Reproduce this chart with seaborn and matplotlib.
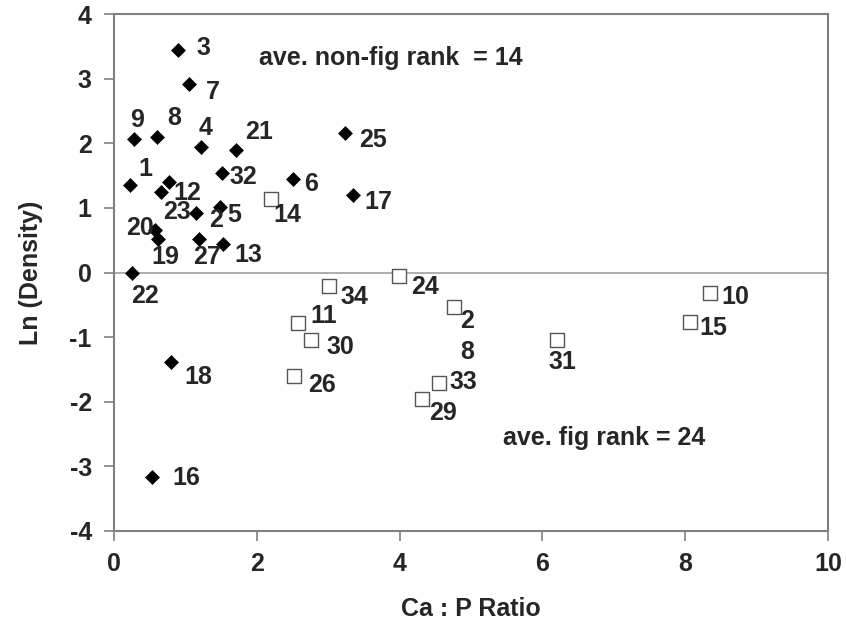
import matplotlib
matplotlib.use("Agg")
import matplotlib.pyplot as plt
import seaborn as sns
import pandas as pd

# ---- data ----
nonfig_labels = ["3", "7", "9", "8", "4", "21", "25", "1", "12", "23", "32", "6", "17",
                 "2", "5", "20", "19", "27", "13", "22", "18", "16"]
nonfig_ca_p = [0.90, 1.05, 0.28, 0.60, 1.22, 1.71, 3.24, 0.22, 0.77, 0.66, 1.51, 2.51, 3.35,
               1.15, 1.48, 0.57, 0.62, 1.19, 1.53, 0.25, 0.80, 0.53]
nonfig_ln_density = [3.44, 2.91, 2.07, 2.10, 1.94, 1.90, 2.16, 1.35, 1.40, 1.25, 1.54, 1.45, 1.20,
                     0.92, 1.01, 0.66, 0.52, 0.52, 0.44, -0.01, -1.39, -3.17]

fig_labels = ["14", "24", "34", "11", "30", "26", "2", "33", "29", "31", "10", "15"]
fig_ca_p = [2.20, 3.99, 3.01, 2.58, 2.76, 2.52, 4.76, 4.55, 4.31, 6.20, 8.35, 8.07]
fig_ln_density = [1.14, -0.05, -0.21, -0.78, -1.04, -1.60, -0.53, -1.71, -1.96, -1.04, -0.32, -0.77]

extra_label = "8"
extra_label_xy = (4.94, -1.23)

note_nonfig = "ave. non-fig rank  = 14"
note_fig = "ave. fig rank = 24"

x_ticks = [0, 2, 4, 6, 8, 10]
y_ticks = [-4, -3, -2, -1, 0, 1, 2, 3, 4]

# ---- label offsets (pixels, dx right, dy down) ----
nonfig_off = [(25, -2), (24, 8), (3, -19), (17, -19), (4, -19), (23, -18), (28, 7), (16, -16),
              (18, 11), (16, 20), (22, 4), (18, 5), (25, 7), (20, 7), (15, 8), (-15, -2),
              (7, 18), (8, 18), (25, 11), (13, 23), (27, 15), (34, 1)]
fig_off = [(16, 16), (26, 11), (25, 11), (25, -7), (29, 7), (28, 9), (13, 14), (24, -1),
           (21, 14), (6, 22), (25, 4), (23, 6)]

df = pd.DataFrame({
    "Ca : P Ratio": nonfig_ca_p + fig_ca_p,
    "Ln (Density)": nonfig_ln_density + fig_ln_density,
    "group": ["non-fig"] * len(nonfig_ca_p) + ["fig"] * len(fig_ca_p),
    "label": nonfig_labels + fig_labels,
})

sns.set_style("white")
FONT = ["Liberation Sans", "DejaVu Sans"]
plt.rcParams["font.family"] = FONT
plt.rcParams["font.weight"] = "bold"
FS = 18

fig = plt.figure(figsize=(8.46, 6.21), dpi=100)
ax = fig.add_axes([114 / 846, 1 - 531 / 621, 714 / 846, 517 / 621])

ax.axhline(0, color="#a0a0a0", lw=1.2, zorder=1)

nf = df[df.group == "non-fig"]
fg = df[df.group == "fig"]
sns.scatterplot(data=nf, x="Ca : P Ratio", y="Ln (Density)", marker="D", s=50,
                color="black", edgecolor="black", linewidth=0.5, ax=ax, zorder=3, legend=False)
sns.scatterplot(data=fg, x="Ca : P Ratio", y="Ln (Density)", marker="s", s=100,
                facecolor="white", edgecolor="#555555", linewidth=1.0, ax=ax, zorder=3, legend=False)

k = 0.72
for (x, y, lab), (dx, dy) in zip(nf[["Ca : P Ratio", "Ln (Density)", "label"]].values, nonfig_off):
    ax.annotate(lab, (x, y), xytext=(dx * k, -dy * k), textcoords="offset points",
                ha="center", va="center", fontsize=FS, fontweight="bold", zorder=4)
for (x, y, lab), (dx, dy) in zip(fg[["Ca : P Ratio", "Ln (Density)", "label"]].values, fig_off):
    ax.annotate(lab, (x, y), xytext=(dx * k, -dy * k), textcoords="offset points",
                ha="center", va="center", fontsize=FS, fontweight="bold", zorder=4)
ax.text(extra_label_xy[0], extra_label_xy[1], extra_label, ha="center", va="center",
        fontsize=FS, fontweight="bold")

ax.text(2.03, 3.32, note_nonfig, ha="left", va="center", fontsize=FS, fontweight="bold")
ax.text(5.45, -2.56, note_fig, ha="left", va="center", fontsize=FS, fontweight="bold")

ax.set_xlim(0, 10)
ax.set_ylim(-4, 4)
ax.set_xticks(x_ticks)
ax.set_yticks(y_ticks)
ax.set_xticklabels([str(t) for t in x_ticks], fontsize=FS, fontweight="bold")
ax.set_yticklabels([str(t) for t in y_ticks], fontsize=FS, fontweight="bold")
ax.tick_params(axis="both", direction="out", length=7, width=1.2, color="#808080",
               left=True, bottom=True)
ax.tick_params(axis="x", pad=8)
ax.tick_params(axis="y", pad=9)
for s in ax.spines.values():
    s.set_color("#808080")
    s.set_linewidth(1.5)
    s.set_visible(True)

ax.set_xlabel("Ca : P Ratio", fontsize=FS, fontweight="bold")
ax.set_ylabel("Ln (Density)", fontsize=FS, fontweight="bold")
ax.xaxis.set_label_coords(0.5, -0.127)
ax.yaxis.set_label_coords(-0.1, 0.5)

fig.savefig("out.png", dpi=100, facecolor="white")
